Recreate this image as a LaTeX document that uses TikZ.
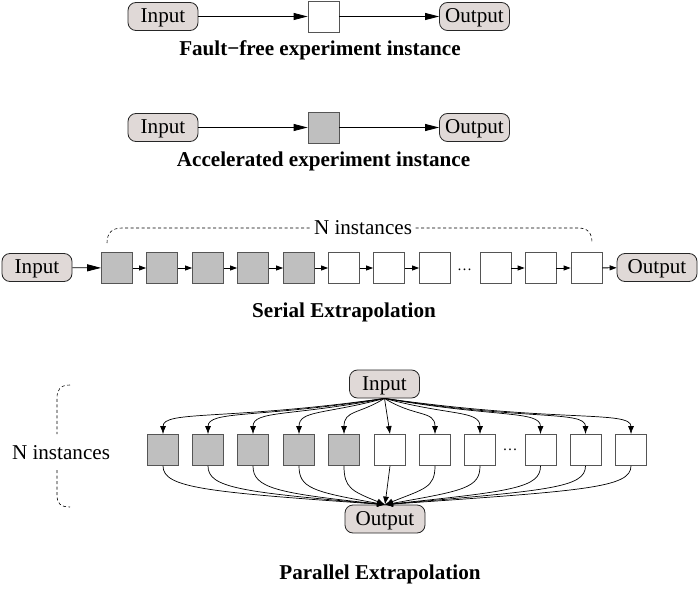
\documentclass[tikz,border=0pt]{standalone}
\usepackage{fontspec}
\setmainfont{Liberation Serif}
\usetikzlibrary{arrows.meta}

\definecolor{iofill}{RGB}{224,217,215}
\definecolor{accgray}{RGB}{191,191,191}
\definecolor{boxline}{RGB}{85,85,85}

\tikzset{
  io/.style={draw=black!85, fill=iofill, rounded corners=8bp, minimum width=70bp,
    minimum height=28bp, inner sep=2bp, text height=15bp, text depth=3bp, line width=0.8bp},
  inst/.style={draw=boxline, fill=white, minimum size=31bp, inner sep=0pt, line width=0.8bp},
  acc/.style={inst, fill=accgray},
  caption/.style={font=\fontsize{21.2}{25}\selectfont\bfseries},
  bigarrow/.style={-{Triangle[length=14bp,width=7bp]}, line width=0.8bp},
  smallarrow/.style={-{Triangle[length=7bp,width=5bp]}, line width=0.8bp},
  fanarrow/.style={-{Latex[length=8bp,width=6bp]}, line width=0.7bp},
  bracket/.style={dash pattern=on 3bp off 2.5bp, line width=0.6bp}
}

\begin{document}
\begin{tikzpicture}[x=1bp, y=1bp, font=\fontsize{21.2}{25}\selectfont]
    \useasboundingbox (0,0) rectangle (698,-589);

    % fault-free instance
    \node[io] (aIn) at (163,-16.5) {Input};
    \node[inst] (aBox) at (323.5,-16.5) {};
    \node[io] (aOut) at (474.5,-16.5) {Output};
    \draw[bigarrow] (aIn) -- (aBox);
    \draw[bigarrow] (aBox) -- (aOut);
    \node[caption] (capA) at (320,-50) {Fault−free experiment instance};

    % accelerated instance
    \node[io] (bIn) at (163,-127.5) {Input};
    \node[acc] (bBox) at (323.5,-127.5) {};
    \node[io] (bOut) at (474.5,-127.5) {Output};
    \draw[bigarrow] (bIn) -- (bBox);
    \draw[bigarrow] (bBox) -- (bOut);
    \node[caption] (capB) at (323.5,-161) {Accelerated experiment instance};

    % serial extrapolation
    \node[io] (sIn) at (37,-267.5) {Input};
    \foreach \x [count=\i] in {117,162,208,253,299}
        \node[acc] (s\i) at (\x,-268) {};
    \foreach \x [count=\i from 6] in {344,389,435,495.5,540.5,586.5}
        \node[inst] (s\i) at (\x,-268) {};
    \node[font=\fontsize{15}{16}\selectfont] (sDots) at (464.5,-270) {\dots};
    \node[io, minimum width=80bp] (sOut) at (657,-267.5) {Output};
    \draw[bigarrow] (sIn) -- (s1);
    \foreach \i [evaluate=\i as \j using int(\i+1)] in {1,...,7,9,10}
        \draw[smallarrow] (s\i) -- (s\j);
    \draw[smallarrow] (s11) -- (sOut);
    \node (sN) at (363,-228) {N instances};
    \coordinate (sL) at (107,-243);
    \coordinate (sR) at (592,-243);
    \draw[bracket] (sL) .. controls (107,-233) and (112,-228) .. (122,-228) -- (sN.west);
    \draw[bracket] (sN.east) -- (578,-228) .. controls (588,-228) and (592,-233) .. (sR);
    \node[caption] (capS) at (344,-312) {Serial Extrapolation};

    % parallel extrapolation
    \node[io] (pIn) at (384.5,-384) {Input};
    \node[io, minimum width=80bp] (pOut) at (385,-519) {Output};
    \foreach \x [count=\i] in {163,208,253,299,344}
        \node[acc] (p\i) at (\x,-450) {};
    \foreach \x [count=\i from 6] in {390,435,480,540.5,585.5,631}
        \node[inst] (p\i) at (\x,-450) {};
    \node[font=\fontsize{15}{16}\selectfont] (pDots) at (510,-450) {\dots};
    \foreach \i/\a/\d in {1/188/160bp, 2/189/128bp, 3/191/95bp, 4/195/62bp, 5/212/30bp,
                          7/-32/36bp, 8/-15/68bp, 9/-10/112bp, 10/-9/144bp, 11/-8/176bp}
        \draw[fanarrow] (pIn.south) to[out=\a, in=90, out distance=\d, in distance=24bp] (p\i.north);
    \draw[fanarrow] (pIn.south) -- (p6.north);
    \foreach \i/\a/\d in {1/176/180bp, 2/175/145bp, 3/174/110bp, 4/170/74bp, 5/158/36bp,
                          7/22/42bp, 8/10/80bp, 9/6/128bp, 10/5/164bp, 11/4/200bp}
        \draw[fanarrow] (p\i.south) to[out=-90, in=\a, out distance=22bp, in distance=\d] (pOut.north);
    \draw[fanarrow] (p6.south) -- (pOut.north);
    \node (pN) at (61,-453) {N instances};
    \coordinate (bT) at (70,-385);
    \coordinate (bB) at (70,-507);
    \draw[bracket] (bT) .. controls (60,-385) and (57,-390) .. (57,-398) -- (57,-434);
    \draw[bracket] (57,-470) -- (57,-495) .. controls (57,-503) and (60,-507) .. (bB);
    \node[caption] (capP) at (380,-574) {Parallel Extrapolation};
\end{tikzpicture}
\end{document}
